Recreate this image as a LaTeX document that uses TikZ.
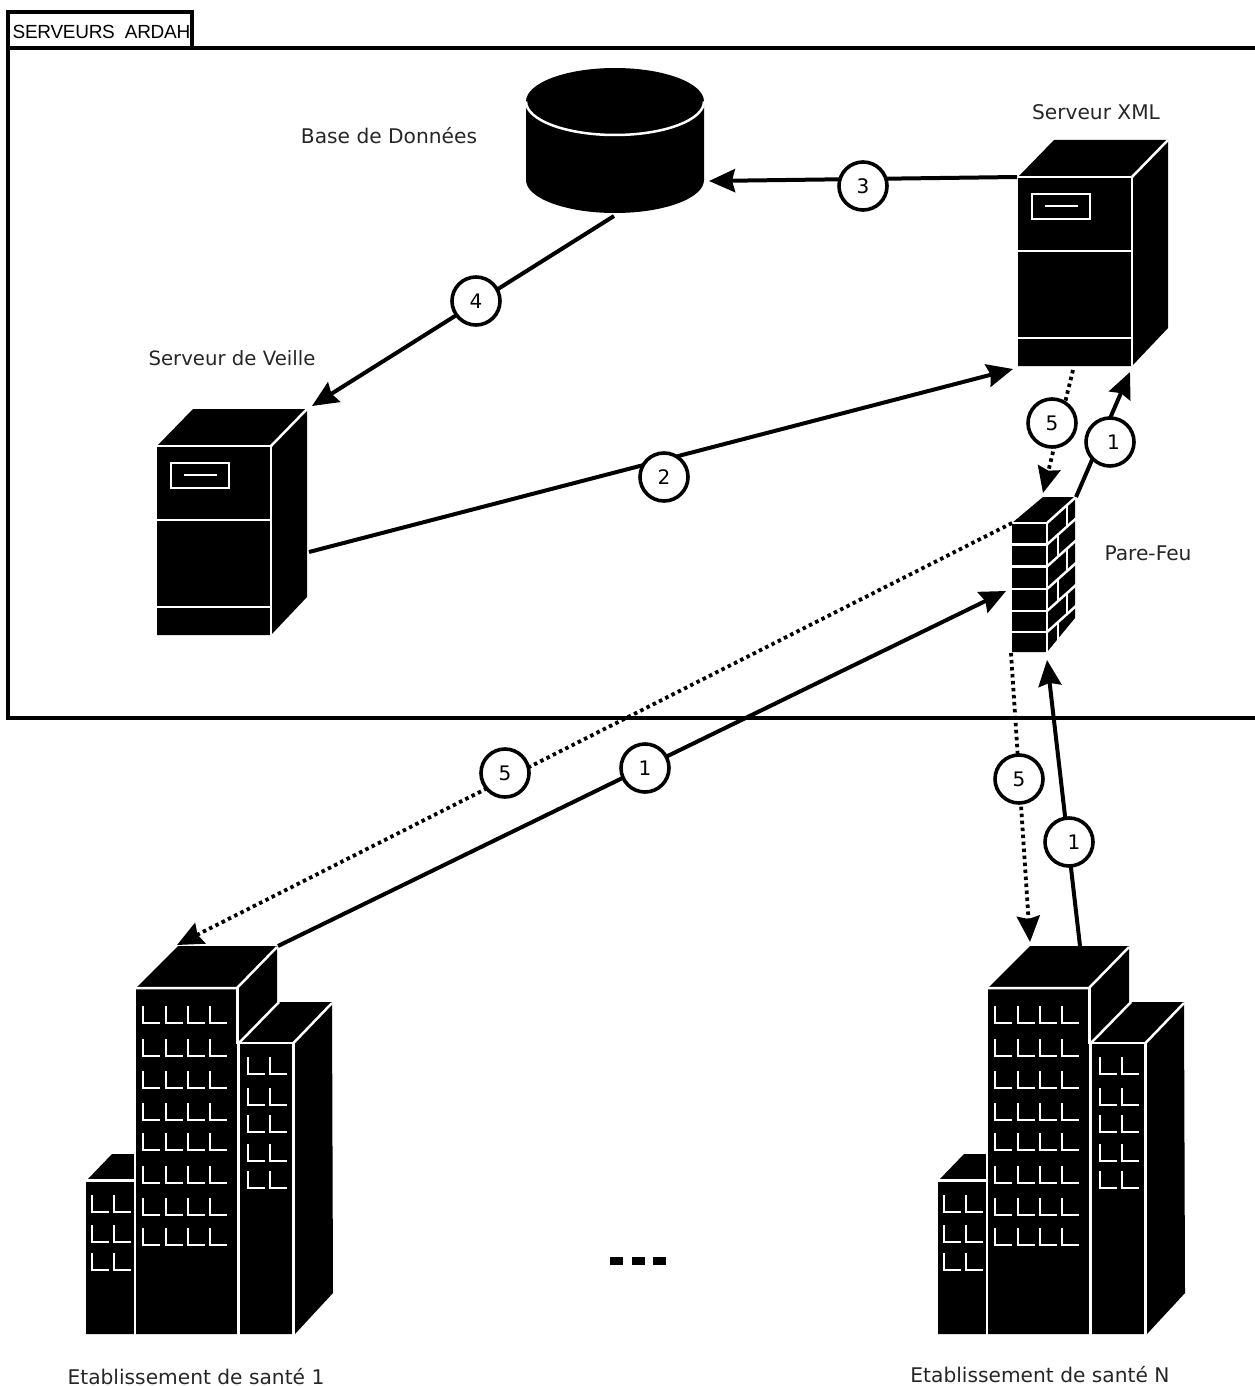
\documentclass[tikz,border=0pt]{standalone}
\usepackage{fontspec}
\setmainfont{DejaVu Sans}
\newfontfamily\tabfont{Liberation Sans}
\usetikzlibrary{arrows.meta}
\tikzset{
  x=1pt,y=-1pt,
  frameline/.style={draw=black,line width=3.2pt},
  solidblk/.style={fill=black,draw=none},
  wline/.style={draw=white,line width=2.5pt},
  winline/.style={draw=white,line width=2.4pt},
  conn/.style={line width=4pt,-{Stealth[length=26pt,width=23pt,inset=3pt]}},
  connd/.style={line width=3.8pt,dash pattern=on 3.5pt off 3.5pt,-{Stealth[length=26pt,width=23pt,inset=3pt]}},
  numc/.style={circle,draw=black,fill=white,line width=3.6pt,minimum size=48pt,inner sep=0pt,font=\fontsize{20}{20}\selectfont},
  lab/.style={font=\fontsize{20.2}{24}\selectfont,text=black!85,inner sep=0pt},
}
\newcommand{\serveurshape}[2]{%
 \begin{scope}[shift={(#1,#2)}]
  \fill[solidblk] (0,0) -- (36,-37) -- (150,-37) -- (150,151) -- (114,189) -- (0,189) -- cycle;
  \draw[wline] (0,0) -- (114,0) -- (114,189);
  \draw[wline] (114,0) -- (150,-37);
  \draw[wline] (0,74) -- (114,74);
  \draw[wline] (0,161) -- (114,161);
  \draw[wline] (14,17) rectangle (72,42);
  \draw[winline] (27,29) -- (60,29);
 \end{scope}}
\newcommand{\winL}[2]{\draw[winline] (#1,#2-17) -- (#1,#2) -- (#1+17,#2);}
\newcommand{\immeuble}[1]{%
 \begin{scope}[shift={(#1,0)}]
  \fill[solidblk] (86,1181) -- (112,1154) -- (136,1154) -- (136,988) -- (178,946) -- (277,946) -- (277,1002) -- (332,1002) -- (333,1293) -- (295,1334) -- (86,1334) -- cycle;
  \draw[wline] (135,1154) -- (135,1335);
  \draw[wline] (86,1180.5) -- (134,1180.5);
  \draw[wline] (136,988) -- (237,988) -- (277,947);
  \draw[wline] (238.5,1044) -- (238.5,1335);
  \draw[wline] (237.5,988) -- (237.5,1044);
  \draw[wline] (239,1043) -- (279,1002);
  \draw[wline] (239,1043) -- (293.5,1043) -- (293.5,1335);
  \draw[wline] (293.5,1043) -- (332,1003);
  \foreach \yy in {1023,1056,1088,1120,1150,1183,1215,1245}
   \foreach \xx in {143,166,188,210} {\winL{\xx}{\yy}}
  \foreach \yy in {1074,1105,1132,1161,1188}
   \foreach \xx in {248,270} {\winL{\xx}{\yy}}
  \foreach \yy in {1212,1242,1270}
   \foreach \xx in {92,114} {\winL{\xx}{\yy}}
 \end{scope}}
\begin{document}
\begin{tikzpicture}
\useasboundingbox (0,0) rectangle (1254,1386);
% frame
\draw[frameline] (1256,48) -- (8,48) -- (8,718) -- (1256,718);
\draw[frameline] (8,48) -- (8,12) -- (192,12) -- (192,48);
\node[inner sep=0pt,anchor=west] (tab) at (12.5,31.5) {\tabfont\fontsize{19}{24}\selectfont\addfontfeature{LetterSpace=-1.5}SERVEURS\ \ ARDAH};
% database
\fill[solidblk] (526,101.5) arc[start angle=180,end angle=360,x radius=89,y radius=33.5] -- (704,180) arc[start angle=0,end angle=180,x radius=89,y radius=33] -- cycle;
\draw[wline] (526,101.5) arc[start angle=180,end angle=0,x radius=89,y radius=33.5];
% servers
\serveurshape{1018}{177}
\serveurshape{157}{446}
% firewall
\fill[solidblk] (1012,523) -- (1043,497) -- (1075,497) -- (1075,618) -- (1047,652) -- (1012,652) -- cycle;
\draw[wline] (1012,523) -- (1047,523) -- (1047,653);
\foreach \yy in {523,544.5,566.5,589,611,632}
  \draw[wline] (1047,\yy) -- (1076,\yy-26);
\foreach \yy in {544.5,566.5,589,611,632}
  \draw[wline] (1012,\yy) -- (1047,\yy);
\foreach \yy in {523,566.5,611}
  \draw[wline] (1067,\yy-18) -- (1067,\yy+3.5);
\foreach \yy in {544.5,589,632}
  \draw[wline] (1058,\yy-10) -- (1058,\yy+11.5);
% buildings
\immeuble{0}
\immeuble{852}
% ellipsis
\fill[solidblk] (610,1257) rectangle (623,1265);
\fill[solidblk] (632,1257) rectangle (645,1265);
\fill[solidblk] (653,1257) rectangle (666,1265);
% anchors
\coordinate (xmlW) at (1017,177);
\coordinate (dbE) at (709,181);
\coordinate (dbS) at (614,216);
\coordinate (svN) at (312,406);
\coordinate (svE) at (309,552);
\coordinate (xmlSW) at (1013,369);
\coordinate (xmlS) at (1073,370);
\coordinate (fwN) at (1043,493);
\coordinate (fwNE) at (1076,497);
\coordinate (xmlSE) at (1130,372);
\coordinate (fwW) at (1012,523);
\coordinate (b1N) at (177,945);
\coordinate (b1NE) at (278,946);
\coordinate (fwWm) at (1006,591);
\coordinate (fwS) at (1011,653);
\coordinate (bnN) at (1030,942);
\coordinate (bnNb) at (1080,946);
\coordinate (fwSb) at (1047,660);
% connectors
\draw[conn] (xmlW) -- (dbE);
\draw[conn] (dbS) -- (svN);
\draw[conn] (svE) -- (xmlSW);
\draw[connd] (xmlS) -- (fwN);
\draw[conn] (fwNE) -- (xmlSE);
\draw[connd] (fwW) -- (b1N);
\draw[conn] (b1NE) -- (fwWm);
\draw[connd] (fwS) -- (bnN);
\draw[conn] (bnNb) -- (fwSb);
% numbered circles
\node[numc] (c3) at (863,186) {3};
\node[numc] (c4) at (476,301) {4};
\node[numc] (c2) at (664,477) {2};
\node[numc] (c5a) at (1052,423) {5};
\node[numc] (c1a) at (1110,442) {\hspace*{7pt}1};
\node[numc] (c5b) at (505,773) {5};
\node[numc] (c1b) at (645,768) {1};
\node[numc] (c5c) at (1019,779) {5};
\node[numc] (c1c) at (1069,842) {\hspace*{10pt}1};
% labels
\node[lab] (tdb) at (389,136) {Base de Données};
\node[lab] (txml) at (1096,112) {Serveur XML};
\node[lab,font=\fontsize{19.7}{24}\selectfont] (tsv) at (232,358) {Serveur de Veille};
\node[lab] (tfw) at (1148,553) {Pare-Feu};
\node[lab] (te1) at (196,1376.5) {Etablissement de santé 1};
\node[lab] (ten) at (1040,1375) {Etablissement de santé N};
\end{tikzpicture}
\end{document}
